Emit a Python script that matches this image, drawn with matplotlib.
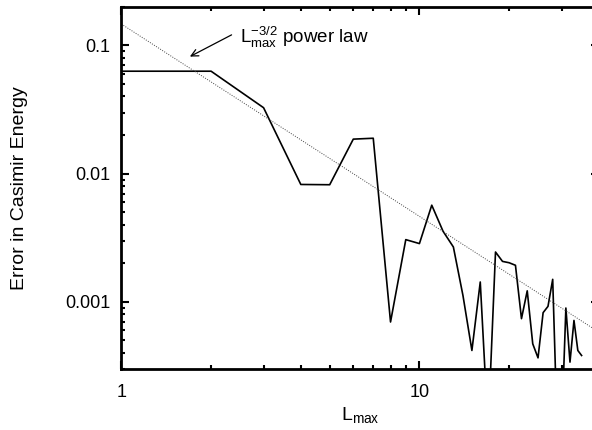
import numpy as np
import matplotlib
matplotlib.use('Agg')
import matplotlib.pyplot as plt
import matplotlib.ticker as mtick

plt.rcParams['font.family'] = ['Liberation Sans', 'DejaVu Sans']
plt.rcParams['mathtext.fontset'] = 'custom'
plt.rcParams['mathtext.rm'] = 'Liberation Sans'
plt.rcParams['mathtext.it'] = 'Liberation Sans'

# Lmax values and error in Casimir energy (values below ylim are clipped)
lmax = list(range(1, 36))
error = [0.063, 0.063, 0.0327, 0.00824, 0.0082, 0.0186, 0.0189, 0.000697,
         0.00306, 0.00285, 0.00568, 0.00356, 0.00268, 0.00112, 0.000418,
         0.00143, 0.0001, 0.00245, 0.00207, 0.00202, 0.00193, 0.00074,
         0.00122, 0.000471, 0.000366, 0.000824, 0.000923, 0.0015, 0.0001,
         0.0001, 0.000896, 0.000339, 0.000717, 0.000418, 0.000382]

law_x = [1.0, 40.0]
law_amp = 0.147
law_y = [law_amp * v ** -1.5 for v in law_x]

fig = plt.figure(figsize=(5.92, 4.30), dpi=100)
ax = fig.add_axes([0.205, 0.142, 0.8066, 0.842])

ax.plot(lmax, error, color='black', linewidth=1.2)
ax.plot(law_x, law_y, color='#444444', linestyle=(0, (1, 1.5)), linewidth=0.7)

ax.set_xscale('log')
ax.set_yscale('log')
ax.set_xlim(1, 40)
ax.set_ylim(0.0003, 0.2)

ax.xaxis.set_major_locator(mtick.FixedLocator([1, 10]))
ax.xaxis.set_major_formatter(mtick.FixedFormatter(['1', '10']))
ax.xaxis.set_minor_locator(mtick.LogLocator(base=10, subs=np.arange(2, 10)))
ax.xaxis.set_minor_formatter(mtick.NullFormatter())
ax.yaxis.set_major_locator(mtick.FixedLocator([0.001, 0.01, 0.1]))
ax.yaxis.set_major_formatter(mtick.FixedFormatter(['0.001', '0.01', '0.1']))
ax.yaxis.set_minor_locator(mtick.LogLocator(base=10, subs=np.arange(2, 10)))
ax.yaxis.set_minor_formatter(mtick.NullFormatter())

ax.tick_params(which='both', direction='in', top=True, right=True,
               labelsize=13, width=1.5, pad=8)
ax.tick_params(axis='x', which='major', pad=11)
ax.tick_params(which='major', length=6)
ax.tick_params(which='minor', length=3)
for s in ax.spines.values():
    s.set_linewidth(2)

ax.set_xlabel(r'$\mathregular{L_{max}}$', fontsize=14, labelpad=3)
ax.set_ylabel('Error in Casimir Energy', fontsize=14)
ax.yaxis.set_label_coords(-0.196, 0.5)

ax.annotate('', xy=(1.698, 0.0819), xytext=(2.343, 0.121),
            arrowprops=dict(arrowstyle='->,head_length=0.5,head_width=0.25',
                            color='black', linewidth=0.9,
                            shrinkA=0, shrinkB=0))
ax.text(2.50, 0.1047, r'$\mathregular{L_{max}^{-3/2}}$ power law',
        fontsize=13.5, va='baseline', ha='left')

fig.savefig('out.png', dpi=100)
